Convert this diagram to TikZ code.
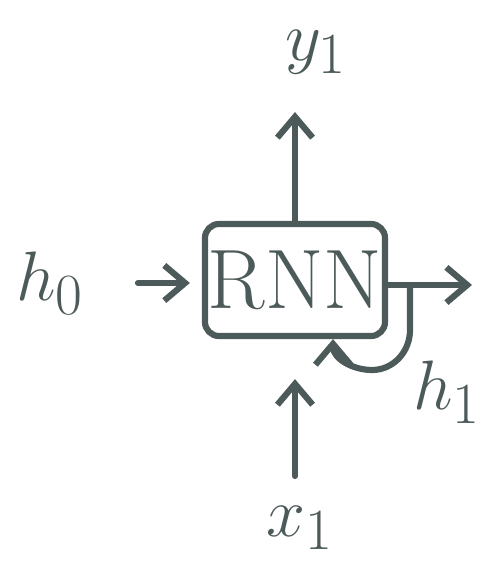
\documentclass[tikz,border=0pt]{standalone}
\usepackage{tikz}
\usetikzlibrary{positioning,arrows.meta,calc}
\definecolor{slate}{HTML}{4D5A5A}
\tikzset{
  cell/.style={draw=slate, line width=2.2pt, rounded corners=5pt, minimum width=22.5mm, minimum height=14mm, inner sep=0pt, font=\fontsize{30}{34}\selectfont, text=slate},
  lbl/.style ={font=\fontsize{32}{38}\selectfont, text=slate, inner sep=2pt},
  ln/.style  ={draw=slate, line width=2.2pt, line cap=round, line join=round, -{Straight Barb[length=2.6mm,width=4.4mm,line width=2.2pt]}},
}

\begin{document}
\begin{tikzpicture}[x=0.0125cm,y=-0.0125cm]
    \useasboundingbox (0,0) rectangle (481,572);
    \node[cell] (rnn) at (295,280) {RNN};
    \node[lbl] (h0) at (50,283) {$h_0$};
    \node[lbl] (y1) at (316,52) {$y_1$};
    \node[lbl] (x1) at (300,528) {$x_1$};
    \node[lbl,font=\fontsize{29}{34}\selectfont] (h1) at (447,392) {$h_1$};
    \coordinate (out) at (472,285);
    \coordinate (loop) at (410,285);

    \draw[ln,shorten <=6mm,shorten >=1.5mm] (h0.east) -- (h0.east -| rnn.west);
    \draw[ln,shorten >=4mm] (rnn.north) -- (rnn.north |- y1.south);
    \draw[ln,shorten <=3mm,shorten >=5mm] (x1.north -| rnn.south) -- (rnn.south);
    \draw[ln] (rnn.east |- out) -- (out);
    \draw[ln] (loop) -- ++(0,45) to[out=-90,in=0] ++(-38,40) to[out=180,in=-90] ($(rnn.south)+(38,0)$);
  \end{tikzpicture}
\end{document}
